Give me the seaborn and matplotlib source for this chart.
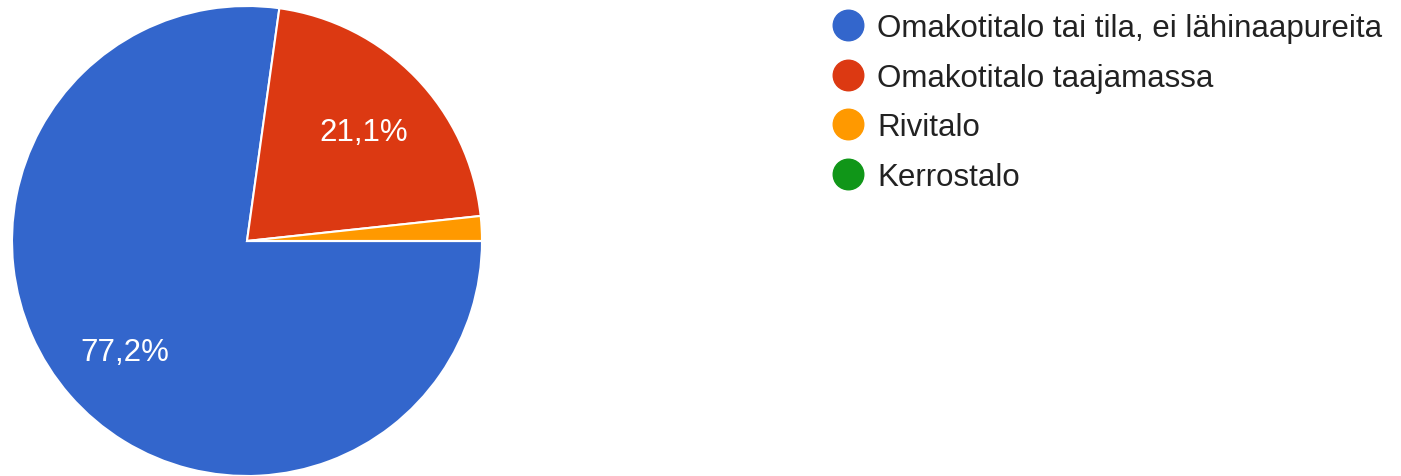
import seaborn as sns
import matplotlib.pyplot as plt
from matplotlib.lines import Line2D

# data
categories = ["Omakotitalo tai tila, ei lähinaapureita", "Omakotitalo taajamassa",
              "Rivitalo", "Kerrostalo"]
shares = [77.2, 21.1, 1.7, 0.0]

sns.set_style("white")
plt.rcParams['font.family'] = ['Liberation Sans', 'DejaVu Sans']

colors = ["#3366cc", "#dc3912", "#ff9900", "#109618"]

W, H = 1401, 477
fig = plt.figure(figsize=(W / 100, H / 100), dpi=100)
cx, cy, r = 247, 242, 235
ax = fig.add_axes([(cx - r) / W, (H - cy - r) / H, 2 * r / W, 2 * r / H])


def pct_label(p):
    # small slices get no label
    return f"{p:.1f}%".replace(".", ",") if p >= 5 else ""


wedges, texts, autotexts = ax.pie(
    shares, colors=colors, startangle=0, counterclock=False,
    autopct=pct_label, pctdistance=0.69, radius=1,
    wedgeprops=dict(edgecolor="white", linewidth=1.5),
    textprops=dict(color="white", fontsize=22.5))
for t in autotexts:
    x, y = t.get_position()
    t.set_position((x, y - 0.018))
ax.set_xlim(-1, 1)
ax.set_ylim(-1, 1)
ax.set_aspect("equal")
ax.axis("off")

handles = [Line2D([], [], marker="o", linestyle="", markersize=22,
                  markerfacecolor=c, markeredgecolor=c) for c in colors]
fig.legend(handles, categories, loc="upper left",
           bbox_to_anchor=(829 / W, 1 - 14 / H), frameon=False,
           fontsize=22.5, labelcolor="#222222", handletextpad=0.35,
           labelspacing=0.63, borderpad=0, borderaxespad=0, handlelength=1.2)

fig.savefig("out.png", dpi=100)
